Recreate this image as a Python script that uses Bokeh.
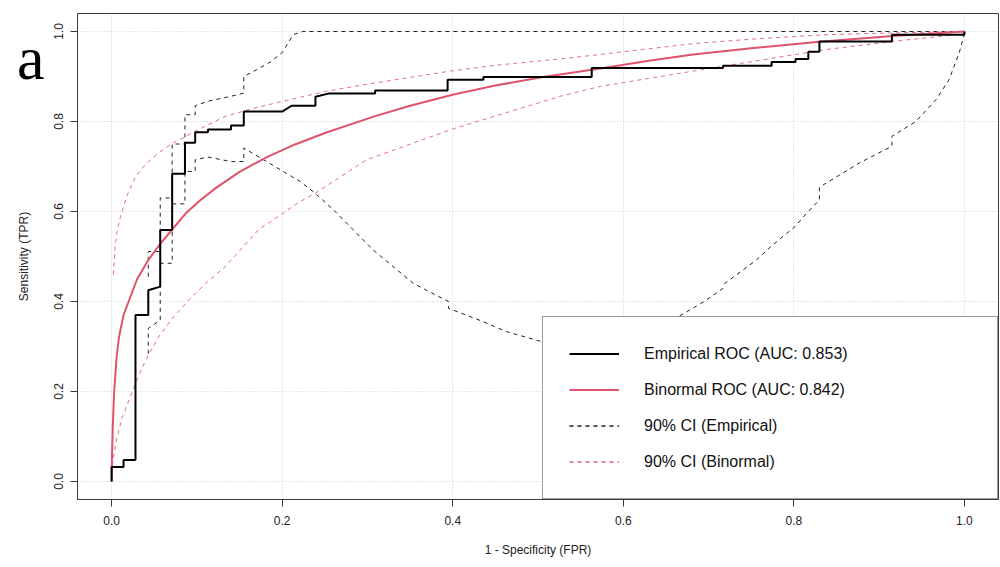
from bokeh.plotting import figure
from bokeh.models import (Range1d, FixedTicker, PrintfTickFormatter, Legend, LegendItem, Div)
from bokeh.layouts import column
from bokeh.embed import file_html
from bokeh.resources import INLINE

# ---------------- data ----------------
emp_fpr = [0, 0, 0.014, 0.014, 0.028, 0.028, 0.043, 0.043, 0.057, 0.057, 0.071, 0.071,
           0.086, 0.086, 0.098, 0.098, 0.113, 0.113, 0.140, 0.140, 0.155, 0.155, 0.200,
           0.211, 0.239, 0.239, 0.254, 0.309, 0.309, 0.394, 0.394, 0.436, 0.436, 0.563,
           0.563, 0.717, 0.717, 0.774, 0.774, 0.802, 0.802, 0.817, 0.817, 0.830, 0.830,
           0.915, 0.915, 1.0, 1.0]
emp_tpr = [0, 0.032, 0.032, 0.048, 0.048, 0.370, 0.370, 0.425, 0.433, 0.559, 0.559, 0.684,
           0.684, 0.753, 0.753, 0.776, 0.776, 0.782, 0.782, 0.791, 0.791, 0.822, 0.822,
           0.835, 0.835, 0.855, 0.862, 0.862, 0.869, 0.869, 0.893, 0.893, 0.899, 0.899,
           0.919, 0.919, 0.924, 0.924, 0.932, 0.932, 0.939, 0.939, 0.955, 0.955, 0.978,
           0.978, 0.993, 0.993, 1.0]

bin_fpr = [0.0, 0.0005, 0.0015, 0.003, 0.006, 0.0086, 0.014, 0.020, 0.030, 0.043, 0.057,
           0.071, 0.087, 0.104, 0.122, 0.150, 0.182, 0.215, 0.251, 0.309, 0.350, 0.401,
           0.450, 0.506, 0.573, 0.630, 0.682, 0.750, 0.830, 0.916, 1.0]
bin_tpr = [0.0, 0.06, 0.13, 0.20, 0.28, 0.32, 0.37, 0.40, 0.45, 0.492, 0.528,
           0.560, 0.596, 0.625, 0.652, 0.688, 0.721, 0.749, 0.775, 0.812, 0.835, 0.860,
           0.880, 0.899, 0.918, 0.935, 0.949, 0.963, 0.977, 0.990, 1.0]

bin_ci_hi_fpr = [0.002, 0.004, 0.0066, 0.0105, 0.018, 0.028, 0.040, 0.055, 0.070, 0.087,
                 0.110, 0.133, 0.160, 0.192, 0.251, 0.300, 0.397, 0.450, 0.526, 0.573,
                 0.682, 0.750, 0.838, 0.920, 1.0]
bin_ci_hi_tpr = [0.46, 0.52, 0.559, 0.589, 0.635, 0.678, 0.705, 0.730, 0.750, 0.767,
                 0.790, 0.811, 0.826, 0.841, 0.867, 0.883, 0.912, 0.925, 0.939, 0.949,
                 0.973, 0.983, 0.993, 0.997, 1.0]

bin_ci_lo_fpr = [0.0, 0.001, 0.0047, 0.012, 0.028, 0.040, 0.055, 0.070, 0.0905, 0.110,
                 0.133, 0.172, 0.221, 0.239, 0.299, 0.401, 0.526, 0.573, 0.682, 0.838,
                 0.916, 1.0]
bin_ci_lo_tpr = [0.0, 0.039, 0.084, 0.140, 0.218, 0.270, 0.321, 0.360, 0.403, 0.440,
                 0.477, 0.559, 0.622, 0.641, 0.715, 0.784, 0.856, 0.878, 0.912, 0.960,
                 0.978, 0.995]

emp_ci_hi_fpr = [0.043, 0.043, 0.057, 0.057, 0.071, 0.071, 0.086, 0.086, 0.098, 0.098,
                 0.113, 0.140, 0.155, 0.155, 0.170, 0.186, 0.200, 0.213, 0.224, 1.0]
emp_ci_hi_tpr = [0.455, 0.511, 0.511, 0.630, 0.630, 0.750, 0.750, 0.815, 0.815, 0.835,
                 0.845, 0.856, 0.863, 0.900, 0.915, 0.932, 0.953, 0.993, 1.0, 1.0]

emp_ci_lo_fpr = [0.043, 0.043, 0.057, 0.057, 0.071, 0.071, 0.086, 0.086, 0.098, 0.098,
                 0.113, 0.140, 0.155, 0.155, 0.211, 0.221, 0.239, 0.260, 0.307, 0.354,
                 0.395, 0.395, 0.436, 0.463, 0.506, 0.550, 0.600, 0.630, 0.658, 0.694,
                 0.717, 0.719, 0.756, 0.773, 0.801, 0.817, 0.830, 0.830, 0.877, 0.915,
                 0.915, 0.943, 0.967, 0.982, 0.994, 1.0]
emp_ci_lo_tpr = [0.284, 0.340, 0.359, 0.485, 0.485, 0.617, 0.617, 0.689, 0.689, 0.715,
                 0.721, 0.711, 0.711, 0.741, 0.678, 0.667, 0.640, 0.604, 0.514, 0.440,
                 0.400, 0.385, 0.355, 0.333, 0.310, 0.298, 0.300, 0.320, 0.359, 0.399,
                 0.429, 0.440, 0.492, 0.522, 0.566, 0.600, 0.626, 0.654, 0.708, 0.745,
                 0.767, 0.800, 0.849, 0.893, 0.953, 0.995]

ticks = [0.0, 0.2, 0.4, 0.6, 0.8, 1.0]
legend_labels = ["Empirical ROC (AUC: 0.853)", "Binormal ROC (AUC: 0.842)",
                 "90% CI (Empirical)", "90% CI (Binormal)"]
x_title = "1 - Specificity (FPR)"
y_title = "Sensitivity (TPR)"
panel_tag = "a"

# ---------------- styling ----------------
FONT = "Liberation Sans"
RED = "#DF536B"
FRAME = "#3a3a3a"

fig = figure(width=1000, height=567, output_backend="svg", toolbar_location=None,
             x_range=Range1d(-0.04, 1.04), y_range=Range1d(-0.04, 1.04),
             min_border_left=77, min_border_right=2, min_border_top=13, min_border_bottom=68)

fig.outline_line_color = FRAME
fig.outline_line_width = 1
fig.background_fill_color = "white"
fig.border_fill_color = "white"

for ax in (fig.xaxis[0], fig.yaxis[0]):
    ax.ticker = FixedTicker(ticks=ticks)
    ax.formatter = PrintfTickFormatter(format="%.1f")
    ax.major_tick_out = 7
    ax.major_tick_in = 0
    ax.minor_tick_out = 0
    ax.minor_tick_in = 0
    ax.axis_line_color = FRAME
    ax.major_tick_line_color = FRAME
    ax.major_label_text_font = FONT
    ax.major_label_text_font_size = "12px"
    ax.major_label_text_color = "#222222"
    ax.axis_label_text_font = FONT
    ax.axis_label_text_font_size = "12px"
    ax.axis_label_text_font_style = "normal"
    ax.axis_label_text_color = "#222222"

fig.xaxis.axis_label = x_title
fig.yaxis.axis_label = y_title
fig.xaxis.major_label_standoff = 9
fig.xaxis.axis_label_standoff = 15
fig.yaxis.major_label_standoff = 8
fig.yaxis.axis_label_standoff = 20
fig.yaxis.major_label_orientation = "parallel"

for g in (fig.xgrid[0], fig.ygrid[0]):
    g.ticker = FixedTicker(ticks=ticks)
    g.grid_line_color = "#cfcfcf"
    g.grid_line_dash = "1 2"
    g.grid_line_width = 1

# CI lines
r_eci_hi = fig.line(emp_ci_hi_fpr, emp_ci_hi_tpr, line_color="#222222", line_width=1, line_dash="4 4")
r_eci_lo = fig.line(emp_ci_lo_fpr, emp_ci_lo_tpr, line_color="#222222", line_width=1, line_dash="4 4")
r_bci_hi = fig.line(bin_ci_hi_fpr, bin_ci_hi_tpr, line_color=RED, line_alpha=0.85, line_width=1, line_dash="4 4")
r_bci_lo = fig.line(bin_ci_lo_fpr, bin_ci_lo_tpr, line_color=RED, line_alpha=0.85, line_width=1, line_dash="4 4")

# main curves
r_bin = fig.line(bin_fpr, bin_tpr, line_color=RED, line_width=2)
r_emp = fig.line(emp_fpr, emp_tpr, line_color="black", line_width=2)

legend = Legend(items=[
    LegendItem(label=legend_labels[0], renderers=[r_emp]),
    LegendItem(label=legend_labels[1], renderers=[r_bin]),
    LegendItem(label=legend_labels[2], renderers=[r_eci_hi, r_eci_lo]),
    LegendItem(label=legend_labels[3], renderers=[r_bci_hi, r_bci_lo]),
], location="bottom_right")
legend.margin = 0
legend.padding = 26
legend.spacing = 15
legend.glyph_width = 50
legend.glyph_height = 21
legend.label_height = 21
legend.label_standoff = 25
legend.label_width = 327
legend.label_text_font = FONT
legend.label_text_font_size = "16px"
legend.label_text_color = "#111111"
legend.border_line_color = FRAME
legend.border_line_width = 1
legend.background_fill_color = "white"
legend.background_fill_alpha = 1.0
fig.add_layout(legend, "center")

# panel tag "a": an overlay text element, outside the plot frame (overlapping the y-title column)
tag = Div(text=panel_tag, width=40, height=0,
          styles={"position": "absolute", "left": "12px", "top": "22px", "z-index": "10",
                  "font-family": "Liberation Serif", "font-size": "62px",
                  "line-height": "62px", "color": "black", "overflow": "visible"})

p = column(fig, tag, styles={"position": "relative"})

open("out.html", "w").write(file_html(p, INLINE))
